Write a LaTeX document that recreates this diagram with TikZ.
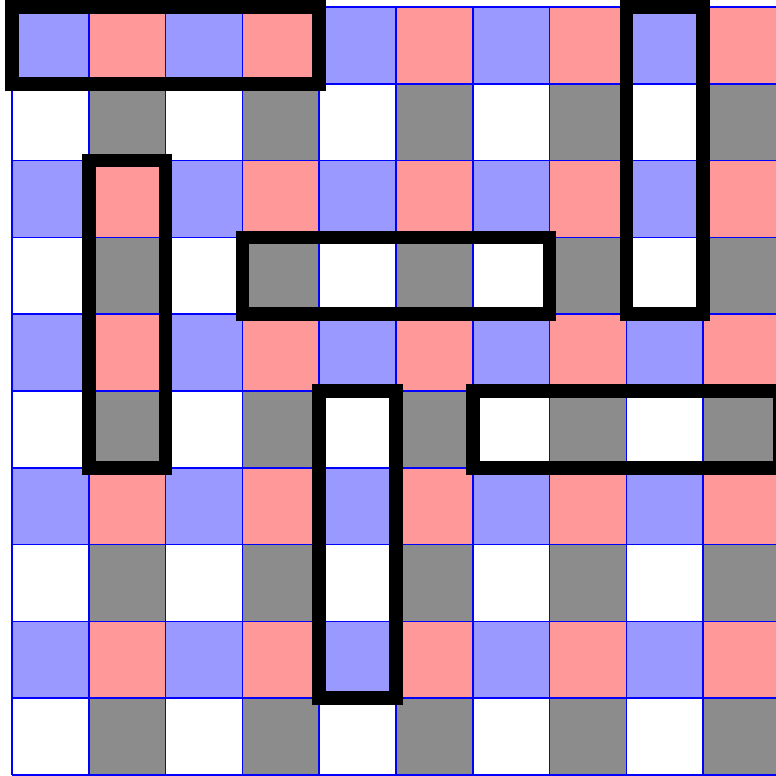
\documentclass[tikz,border=0pt]{standalone}
\definecolor{cellblue}{RGB}{153,153,255}
\definecolor{cellred}{RGB}{255,153,153}
\definecolor{cellgray}{RGB}{140,140,140}
\tikzset{
  gridline/.style={draw=blue, line width=0.6pt},
  domino/.style={draw=black, line width=5pt, line join=miter}
}
\begin{document}
\begin{tikzpicture}
\useasboundingbox (-0.15625,-0.013) rectangle (9.948,10.091);
\clip (-0.15625,-0.013) rectangle (9.948,10.091);
\foreach \r in {0,...,9}{
  \foreach \c in {0,...,9}{
    \pgfmathsetmacro{\y}{9-\r}
    \ifodd\r
      \ifodd\c \def\col{cellgray}\else\def\col{white}\fi
    \else
      \ifodd\c \def\col{cellred}\else\def\col{cellblue}\fi
    \fi
    \fill[\col] (\c,\y) rectangle ++(1,1);
  }
}
\draw[gridline] (0,0) grid (10,10);
\draw[domino] (0,9) rectangle (4,10);
\draw[domino] (8,6) rectangle (9,10);
\draw[domino] (1,4) rectangle (2,8);
\draw[domino] (3,6) rectangle (7,7);
\draw[domino] (4,1) rectangle (5,5);
\draw[domino] (6,4) rectangle (10,5);
\end{tikzpicture}
\end{document}
